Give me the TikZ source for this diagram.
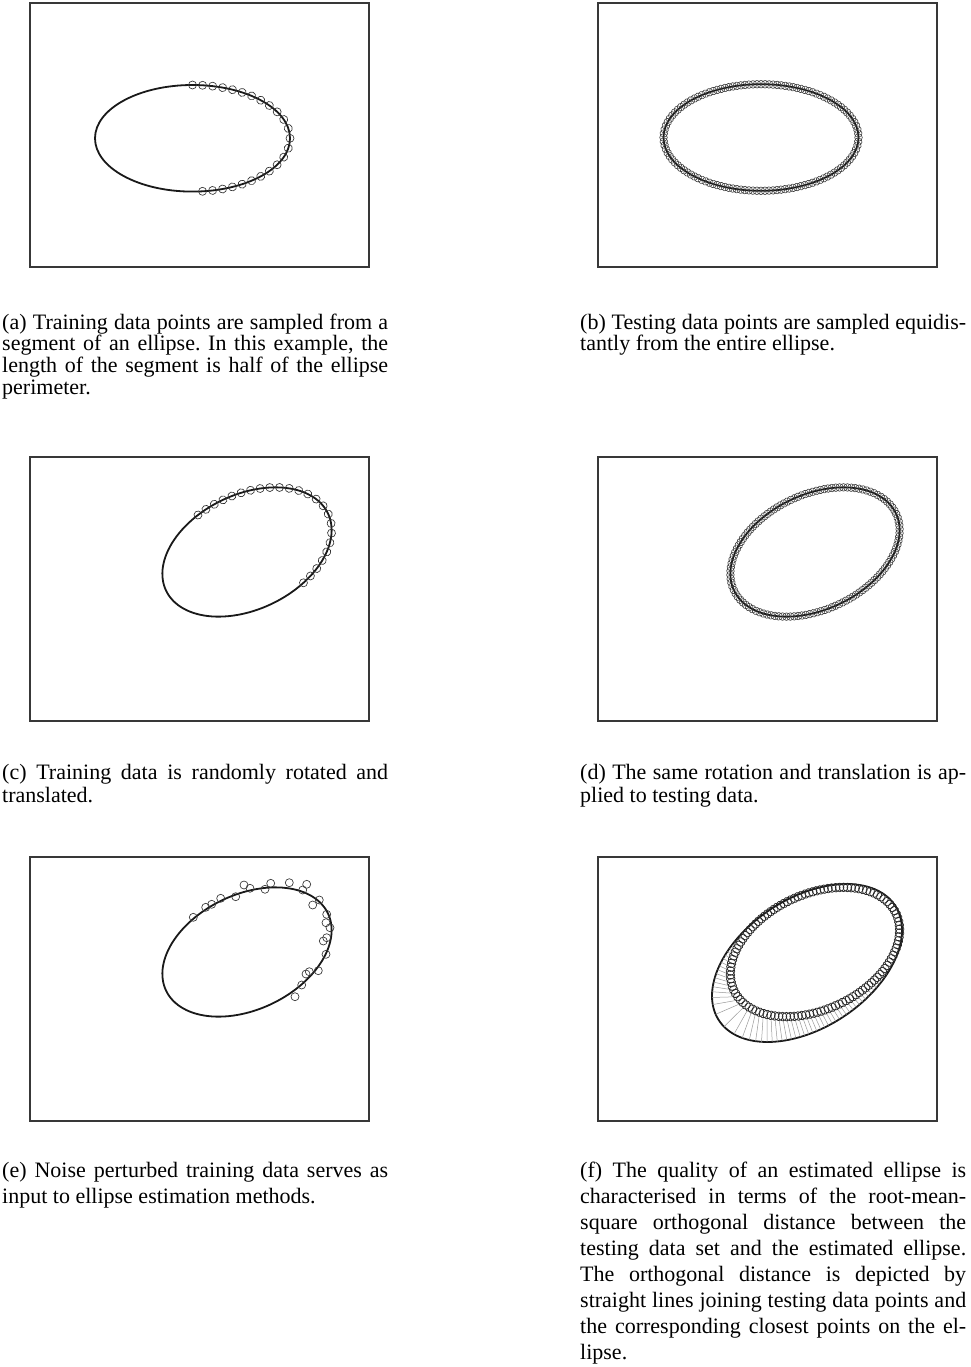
\documentclass[tikz,border=0pt]{standalone}
\usepackage{fontspec}
\setmainfont{Liberation Serif}
\usetikzlibrary{decorations.markings}
\frenchspacing
\newlength\capw
\setlength\capw{386pt}
\newcommand\jl[1]{\makebox[\capw][s]{#1}}
% estimated ellipse of panel (f), canvas coordinates (y up)
\def\Ecx{807}\def\Ecy{-963}
\def\Eux{95}\def\Euy{32.9}
\def\Evx{0}\def\Evy{71.8}
\makeatletter
\newcommand\Npoint{%
  \pgfmathsetmacro\Ncs{cos(\Nt)}%
  \pgfmathsetmacro\Nsn{sin(\Nt)}%
  \pgfmathsetmacro\Nrx{\Eux*(\Ncs)+\Evx*(\Nsn)}%
  \pgfmathsetmacro\Nry{\Euy*(\Ncs)+\Evy*(\Nsn)}%
  \pgfmathsetmacro\Nex{\Ecx+(\Nrx)}%
  \pgfmathsetmacro\Ney{\Ecy+(\Nry)}%
}
\newcommand\Nstep{%
  \Npoint
  \pgfmathsetmacro\Nqx{-\Eux*(\Nsn)+\Evx*(\Ncs)}%
  \pgfmathsetmacro\Nqy{-\Euy*(\Nsn)+\Evy*(\Ncs)}%
  \pgfmathsetmacro\Nddx{(\Nex)-(\Npx)}%
  \pgfmathsetmacro\Nddy{(\Ney)-(\Npy)}%
  \pgfmathsetmacro\Nf{(\Nddx)*(\Nqx)+(\Nddy)*(\Nqy)}%
  \pgfmathsetmacro\Nfp{(\Nqx)*(\Nqx)+(\Nqy)*(\Nqy)-(\Nddx)*(\Nrx)-(\Nddy)*(\Nry)}%
  \pgfmathsetmacro\Nt{(\Nt)-57.29578*((\Nf)/(\Nfp))}%
}
\newcommand\distmark{%
  \begingroup
  \pgfmathsetmacro\Npx{\the\pgf@pt@x}%
  \pgfmathsetmacro\Npy{\the\pgf@pt@y}%
  \pgfmathsetmacro\Ndx{(\Npx)-(\Ecx)}%
  \pgfmathsetmacro\Ndy{(\Npy)-(\Ecy)}%
  \pgfmathsetmacro\Nt{atan2(-\Euy*(\Ndx)+\Eux*(\Ndy),\Evy*(\Ndx))}%
  \Nstep\Nstep\Nstep\Nstep
  \Npoint
  \pgftransformreset
  \draw[dline] (\Npx pt,\Npy pt) -- (\Nex pt,\Ney pt);
  \endgroup}
\makeatother
\tikzset{
  frame/.style={draw=black!78, line width=1.3pt, inner sep=0pt, outer sep=0pt,
    minimum width=339pt, minimum height=264pt, anchor=north west},
  curve/.style={draw=black!90, line width=1.8pt},
  ptc/.style={draw=black!80, line width=0.65pt},
  tpc/.style={draw=black!75, line width=0.6pt},
  fpc/.style={draw=black!85, line width=0.7pt},
  dline/.style={draw=black!40, line width=0.5pt},
  capt/.style={anchor=base west, inner sep=0pt, font=\fontsize{22}{24}\selectfont},
  train/.style={postaction={decorate}, decoration={markings,
    mark=between positions 0 and 1 step 0.0416666 with {\draw[ptc] (0,0) circle[radius=4pt];}}},
  test/.style={postaction={decorate}, decoration={markings,
    mark=between positions 0 and 0.996 step 0.0083333 with {\draw[tpc] (0,0) circle[radius=3.8pt];}}},
  testf/.style={postaction={decorate}, decoration={markings,
    mark=between positions 0 and 0.996 step 0.0083333 with {\draw[fpc] (0,0) circle[radius=4.3pt];}}},
  distl/.style={postaction={decorate}, decoration={markings,
    mark=between positions 0 and 0.996 step 0.0083333 with {\distmark}}},
}
\begin{document}
\begin{tikzpicture}[x=1pt,y=-1pt]
\useasboundingbox (0,0) rectangle (970,1367);
\fill[white] (0,0) rectangle (970,1367);

% frames
\node[frame] (pa) at (30,3) {};
\node[frame] (pb) at (598,3) {};
\node[frame] (pc) at (30,457) {};
\node[frame] (pd) at (598,457) {};
\node[frame] (pe) at (30,857) {};
\node[frame] (pf) at (598,857) {};

% (a)
\draw[curve] (192.5,138.3) ellipse [x radius=97.5, y radius=53.3];
\path[train] plot[domain=90:-90, samples=181] ({192.5+97.5*cos(\x)},{138.3-53.3*sin(\x)});

% (b)
\draw[curve] (761,137.5) ellipse [x radius=97.5, y radius=53.3];
\path[test] plot[domain=0:360, samples=361] ({761+97.5*cos(\x)},{137.5-53.3*sin(\x)});

% (c)
\draw[curve] plot[smooth cycle, domain=0:357, samples=120] ({247+69*cos(\x)-49*sin(\x)},{552-53*cos(\x)-37*sin(\x)});
\path[train] plot[domain=90:-90, samples=181] ({247+69*cos(\x)-49*sin(\x)},{552-53*cos(\x)-37*sin(\x)});

% (d)
\draw[curve] plot[smooth cycle, domain=0:357, samples=120] ({815+69*cos(\x)-49*sin(\x)},{552-53*cos(\x)-37*sin(\x)});
\path[test] plot[domain=0:360, samples=361] ({815+69*cos(\x)-49*sin(\x)},{552-53*cos(\x)-37*sin(\x)});

% (e)
\draw[curve] plot[smooth cycle, domain=0:357, samples=120] ({247+69*cos(\x)-49*sin(\x)},{952-53*cos(\x)-37*sin(\x)});
\foreach \px/\py [count=\i] in {193.3/917.3, 205.7/907.3, 211.7/904.3, 220.7/898.3, 235.7/896.7,
  244/885, 250/888.3, 265/889.3, 270.7/883.3, 289.3/882.7, 302.7/890, 306.7/884.3,
  312.7/905, 319.3/900, 326.7/914.3, 326/922.7, 330/927.7, 323.3/941, 326.7/937.7,
  326/954.3, 318.3/970.7, 306/974, 309.3/971.7, 301.7/985, 295/996.7}
  \draw[ptc] (\px,\py) circle[radius=4pt];

% (f)
\draw[curve] plot[smooth cycle, domain=0:357, samples=120] ({807+95*cos(\x)},{963-32.9*cos(\x)-71.8*sin(\x)});
\path[distl] plot[domain=0:360, samples=361] ({815+69*cos(\x)-49*sin(\x)},{952-53*cos(\x)-37*sin(\x)});
\path[testf] plot[domain=0:360, samples=361] ({815+69*cos(\x)-49*sin(\x)},{952-53*cos(\x)-37*sin(\x)});

% captions
\node[capt] (ca1) at (2,329) {\jl{(a) Training data points are sampled from a}};
\node[capt] (ca2) at (2,350.7) {\jl{segment of an ellipse. In this example, the}};
\node[capt] (ca3) at (2,372.4) {\jl{length of the segment is half of the ellipse}};
\node[capt] (ca4) at (2,394) {perimeter.};

\node[capt] (cb1) at (580,329) {\jl{(b) Testing data points are sampled equidis-}};
\node[capt] (cb2) at (580,350.7) {tantly from the entire ellipse.};

\node[capt] (cc1) at (2,779) {\jl{(c) Training data is randomly rotated and}};
\node[capt] (cc2) at (2,802) {translated.};

\node[capt] (cd1) at (580,779) {\jl{(d) The same rotation and translation is ap-}};
\node[capt] (cd2) at (580,802) {plied to testing data.};

\node[capt] (ce1) at (2,1177) {\jl{(e) Noise perturbed training data serves as}};
\node[capt] (ce2) at (2,1203) {input to ellipse estimation methods.};

\node[capt] (cf1) at (580,1177) {\jl{(f) The quality of an estimated ellipse is}};
\node[capt] (cf2) at (580,1203) {\jl{characterised in terms of the root-mean-}};
\node[capt] (cf3) at (580,1229) {\jl{square orthogonal distance between the}};
\node[capt] (cf4) at (580,1255) {\jl{testing data set and the estimated ellipse.}};
\node[capt] (cf5) at (580,1281) {\jl{The orthogonal distance is depicted by}};
\node[capt] (cf6) at (580,1307) {\jl{straight lines joining testing data points and}};
\node[capt] (cf7) at (580,1333) {\jl{the corresponding closest points on the el-}};
\node[capt] (cf8) at (580,1359) {lipse.};
\end{tikzpicture}
\end{document}
